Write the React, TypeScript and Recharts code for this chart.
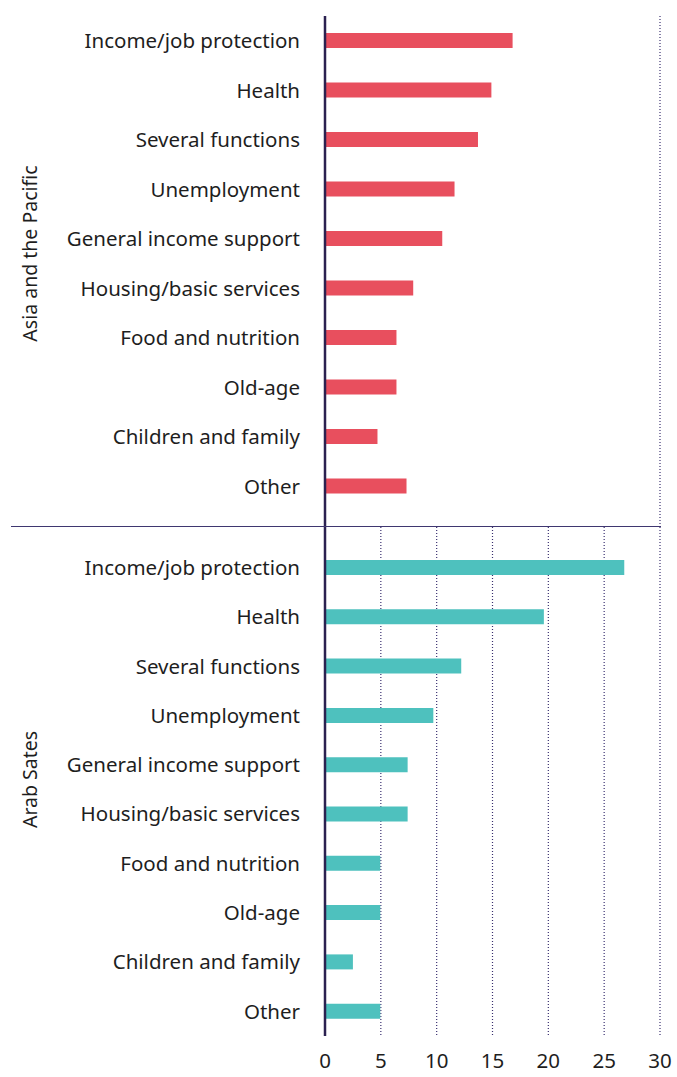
import { BarChart, Bar, XAxis, YAxis, CartesianGrid } from 'recharts'

const categories = [
  'Income/job protection', 'Health', 'Several functions', 'Unemployment',
  'General income support', 'Housing/basic services', 'Food and nutrition',
  'Old-age', 'Children and family', 'Other',
]
const asiaValues = [16.8, 14.9, 13.7, 11.6, 10.5, 7.9, 6.4, 6.4, 4.7, 7.3]
const arabValues = [26.8, 19.6, 12.2, 9.7, 7.4, 7.4, 4.95, 4.95, 2.5, 4.95]
const xTicks = [0, 5, 10, 15, 20, 25, 30]

const FONT = '"Noto Sans", sans-serif'
const TEXT = '#1e1e1e'
const AXIS = '#2b2150'
const GRID = '#3a3070'

const asiaData = categories.map((name, i) => ({ name, value: asiaValues[i] }))
const arabData = categories.map((name, i) => ({ name, value: arabValues[i] }))

function groupLabel(text: string, dy: number) {
  return (props: any) => {
    const vb = props.viewBox ?? {}
    const x = (vb.x ?? 0) + 29
    const y = (vb.y ?? 0) + (vb.height ?? 0) / 2 + dy
    return (
      <text x={x} y={y} transform={`rotate(-90, ${x}, ${y})`} textAnchor="middle"
        dominantBaseline="central" fill={TEXT} fontSize={19.5} fontFamily={FONT}>
        {text}
      </text>
    )
  }
}

export default function App() {
  return (
    <div style={{ position: 'absolute', left: 0, top: 0, width: 677, height: 1077, background: '#fff', fontFamily: FONT }}>
      {/* Asia and the Pacific */}
      <div style={{ position: 'absolute', left: 0, top: 0 }}>
        <BarChart width={677} height={527} data={asiaData} layout="vertical"
          margin={{ top: 16, right: 17, bottom: 0, left: 0 }}>
          <CartesianGrid horizontal={false} stroke={GRID} strokeWidth={1.2} strokeDasharray="1 2" />
          <XAxis type="number" domain={[0, 30]} ticks={xTicks} height={0}
            tick={false} axisLine={false} tickLine={false} />
          <YAxis type="category" dataKey="name" width={325} padding={{ top: 0, bottom: 16 }}
            tickLine={false} tickSize={0} tickMargin={25}
            axisLine={{ stroke: AXIS, strokeWidth: 2.5 }}
            tick={{ fill: TEXT, fontSize: 20.5, fontFamily: FONT }}
            interval={0}
            label={{ content: groupLabel('Asia and the Pacific', -18) }} />
          <Bar dataKey="value" fill="#e84f5e" barSize={15} isAnimationActive={false} />
        </BarChart>
      </div>

      {/* Arab States */}
      <div style={{ position: 'absolute', left: 0, top: 527 }}>
        <BarChart width={677} height={550} data={arabData} layout="vertical"
          margin={{ top: 0, right: 17, bottom: 0, left: 0 }}>
          <CartesianGrid horizontal={false} stroke={GRID} strokeWidth={1.2} strokeDasharray="1 2" />
          <XAxis type="number" domain={[0, 30]} ticks={xTicks} height={41}
            axisLine={false} tickLine={false} tickSize={0} tickMargin={17}
            tick={{ fill: TEXT, fontSize: 20.5, fontFamily: FONT }} />
          <YAxis type="category" dataKey="name" width={325} padding={{ top: 16, bottom: 0 }}
            tickLine={false} tickSize={0} tickMargin={25}
            axisLine={{ stroke: AXIS, strokeWidth: 2.5 }}
            tick={{ fill: TEXT, fontSize: 20.5, fontFamily: FONT }}
            interval={0}
            label={{ content: groupLabel('Arab Sates', -2) }} />
          <Bar dataKey="value" fill="#4ec1be" barSize={15} isAnimationActive={false} />
        </BarChart>
      </div>

      {/* separator between the two regions */}
      <div style={{ position: 'absolute', left: 11, top: 526, width: 650, height: 1, background: '#3f3770' }} />
    </div>
  )
}
